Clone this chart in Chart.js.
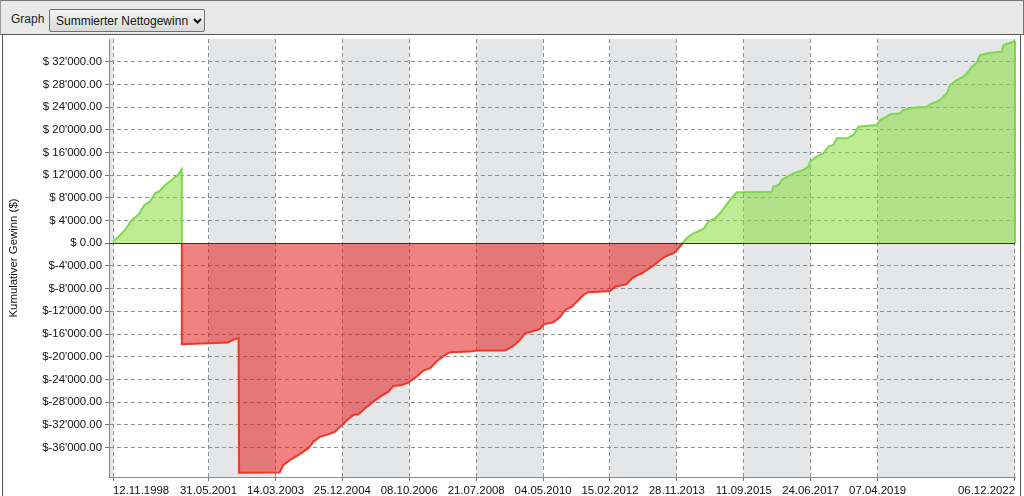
<!DOCTYPE html>
<html><head><meta charset="utf-8">
<script src="https://cdn.jsdelivr.net/npm/chart.js"></script>
<style>
html,body{margin:0;padding:0;background:#fff;width:1024px;height:496px;overflow:hidden;font-family:"Liberation Sans",Arial,sans-serif;}
#hdr{position:absolute;left:0;top:0;width:1022px;height:33px;background:#e9e9e9;border-top:1px solid #777;border-bottom:1px solid #555;border-right:1px solid #777;border-left:1px solid #999;}
#lbl{position:absolute;left:10px;top:11px;font-size:12px;color:#222;}
#sel{position:absolute;left:48px;top:8px;width:156px;height:23px;box-sizing:border-box;border:1px solid #6f6f6f;border-radius:2px;background:linear-gradient(#f6f6f6,#d9d9d9);font-size:12px;color:#111;}
#sel span{position:absolute;left:6px;top:4px;white-space:nowrap;}
#sel svg{position:absolute;left:143px;top:8px;}
#panel{position:absolute;left:2px;top:35px;width:1017px;height:470px;border-left:1px solid #555;border-right:1px solid #555;}
#c{position:absolute;left:0;top:36px;}
</style>
</head><body>
<div id="hdr"><div id="lbl">Graph</div><div id="sel"><span>Summierter Nettogewinn</span><svg width="9" height="6" viewBox="0 0 9 6"><path d="M1 1 L4.5 4.5 L8 1" fill="none" stroke="#111" stroke-width="2"/></svg></div></div>
<div id="panel"></div>
<canvas id="c" width="1024" height="460"></canvas>
<script>
// ---- data ----
const xTickLabels = ['12.11.1998','31.05.2001','14.03.2003','25.12.2004','08.10.2006','21.07.2008','04.05.2010','15.02.2012','28.11.2013','11.09.2015','24.06.2017','07.04.2019','06.12.2022'];
const yTickValues = [-36000,-32000,-28000,-24000,-20000,-16000,-12000,-8000,-4000,0,4000,8000,12000,16000,20000,24000,28000,32000];
// trade dates as decimal years
const tradeTimes = [
 1998.863,1999.006,1999.185,1999.364,1999.540,1999.700,1999.852,1999.986,2000.119,2000.252,2000.431,2000.591,2000.698,
 2000.699,2001.933,2002.067,2002.213,2002.227,2003.307,2003.409,2003.588,2003.854,2004.076,2004.209,2004.388,2004.567,2004.788,
 2004.967,2005.143,2005.276,2005.410,2005.589,2005.810,2005.989,2006.210,2006.344,2006.568,2006.744,2006.968,2007.144,2007.323,
 2007.544,2007.768,2007.856,2008.390,2008.569,2009.324,2009.545,2009.724,2009.858,2010.036,2010.258,2010.346,2010.613,2010.791,
 2010.925,2011.104,2011.280,2011.413,2011.547,2012.125,2012.259,2012.571,2012.704,2012.838,2012.971,2013.105,2013.281,2013.459,
 2013.593,2013.814,2013.905,2014.038,2014.127,2014.215,2014.348,2014.615,2014.748,2014.927,2015.060,2015.194,2015.327,2015.506,
 2015.682,2016.440,2016.482,2016.616,2016.706,2017.016,2017.283,2017.416,2017.462,2017.640,2017.817,2017.950,2018.083,2018.174,
 2018.441,2018.617,2018.750,2019.241,2019.329,2019.508,2019.596,2019.863,2019.951,2020.218,2020.575,2020.663,2020.842,2020.976,
 2021.109,2021.197,2021.376,2021.552,2021.686,2021.776,2021.909,2021.997,2022.264,2022.576,2022.619,2022.886,2022.929
];
const cumulativeProfit = [
 300,1160,2340,4100,5000,6750,7330,8800,9270,10270,11150,12030,13040,
 -17800,-17500,-17040,-16700,-40470,-40420,-39060,-38180,-37120,-36120,-34960,-34080,-33780,-33200,
 -32020,-30960,-30250,-30130,-29070,-27910,-27030,-26150,-25140,-24970,-24560,-23500,-22450,-22030,
 -20560,-19510,-19210,-19100,-18920,-18920,-18100,-17040,-15860,-15580,-15100,-14300,-13950,-13000,
 -11750,-11170,-9990,-9110,-8630,-8400,-7650,-7220,-6170,-5710,-5290,-4700,-3950,-2940,
 -2360,-1760,-1180,-180,580,1160,1760,2520,3800,4400,5290,6450,7630,8980,
 8980,9090,9970,10270,11150,12330,12920,13500,14380,15260,15860,17020,17320,18500,
 18500,19080,20550,20840,21720,22310,22730,22900,23490,23890,24070,24490,24950,25550,
 26430,27890,28770,29360,30240,31120,31820,33180,33580,33760,34940,35520,35650
];

// ---- helpers ----
function dateToYear(s){const [d,m,y]=s.split('.').map(Number);const a=Date.UTC(y,0,1),b=Date.UTC(y+1,0,1);return y+(Date.UTC(y,m-1,d)-a)/(b-a);}
const xTickValues = xTickLabels.map(dateToYear);
function fmtMoney(v){const a=Math.abs(v);const s=a.toFixed(2);let [i,f]=s.split('.');i=i.replace(/\B(?=(\d{3})+(?!\d))/g,"'");return '$'+(v<0?'-':' ')+i+'.'+f;}

const GREEN_LINE='#7cd94a', RED_LINE='#ee3526';
const GREEN_FILL='rgba(137,219,60,0.55)', RED_FILL='rgba(228,28,28,0.55)';
const FONT={family:'"Liberation Sans", Arial, sans-serif',size:11.4};

function splitGradient(ctx){
  const chart=ctx.chart, ca=chart.chartArea;
  if(!ca) return RED_LINE;
  const y0=chart.scales.y.getPixelForValue(0);
  const g=chart.ctx.createLinearGradient(0,ca.top,0,ca.bottom);
  const s=Math.min(1,Math.max(0,(y0-ca.top)/(ca.bottom-ca.top)));
  g.addColorStop(0,GREEN_LINE);g.addColorStop(s,GREEN_LINE);g.addColorStop(s,RED_LINE);g.addColorStop(1,RED_LINE);
  return g;
}

const bands={id:'bands',beforeDraw(chart){
  const {ctx,chartArea:ca,scales:{x}}=chart;
  const pos=[ca.left,...xTickValues.map(v=>x.getPixelForValue(v))];
  ctx.save();ctx.fillStyle='#e5e6e8';
  for(let i=0;i+1<pos.length;i+=2){ctx.fillRect(pos[i],ca.top,pos[i+1]-pos[i],ca.bottom-ca.top);}
  ctx.restore();
}};
const zeroLine={id:'zeroLine',afterDatasetsDraw(chart){
  const {ctx,chartArea:ca,scales:{x,y}}=chart;
  const y0=Math.round(y.getPixelForValue(0))+0.5;
  ctx.save();
  const meta=chart.getDatasetMeta(0);const last=meta.data[meta.data.length-1];
  ctx.strokeStyle=GREEN_LINE;ctx.lineWidth=2;ctx.beginPath();ctx.moveTo(last.x,last.y);ctx.lineTo(last.x,y0);ctx.stroke();
  ctx.strokeStyle='#333';ctx.lineWidth=1;ctx.beginPath();ctx.moveTo(ca.left,y0);ctx.lineTo(ca.right,y0);ctx.stroke();
  ctx.restore();
}};

new Chart(document.getElementById('c'),{
  type:'line',
  data:{datasets:[{
    data:tradeTimes.map((t,i)=>({x:t,y:cumulativeProfit[i]})),
    borderColor:splitGradient,borderWidth:2,pointRadius:0,tension:0,
    fill:{target:{value:0},above:GREEN_FILL,below:RED_FILL}
  }]},
  options:{
    responsive:false,animation:false,devicePixelRatio:1,
    layout:{padding:{top:3,right:9,left:0,bottom:0}},
    plugins:{legend:{display:false},tooltip:{enabled:false}},
    scales:{
      x:{type:'linear',min:1998.756,max:2022.929,
        afterBuildTicks:s=>{s.ticks=xTickValues.map(v=>({value:v}));},
        afterFit:s=>{s.height=19;s.paddingLeft=0;s.paddingRight=0;},
        ticks:{autoSkip:false,maxRotation:0,align:'inner',padding:3,color:'#111',font:FONT,
          callback:(v,i)=>xTickLabels[i]},
        grid:{color:'#8f8f8f',lineWidth:1,tickLength:4,tickColor:'#777'},
        border:{display:true,color:'#8a8a8a',width:1,dash:[4,3]}
      },
      y:{type:'linear',min:-41200,max:36000,
        afterBuildTicks:s=>{s.ticks=yTickValues.map(v=>({value:v}));},
        afterFit:s=>{s.width=109;s.paddingTop=0;s.paddingBottom=0;},
        ticks:{padding:3,color:'#111',font:FONT,callback:v=>fmtMoney(v)},
        grid:{color:'#8f8f8f',lineWidth:1,tickLength:4,tickColor:'#777'},
        border:{display:true,color:'#8a8a8a',width:1,dash:[4,3]},
        title:{display:true,text:'Kumulativer Gewinn ($)',color:'#111',font:FONT,padding:{top:7,bottom:0}}
      }
    }
  },
  plugins:[bands,zeroLine]
});
</script>
</body></html>
